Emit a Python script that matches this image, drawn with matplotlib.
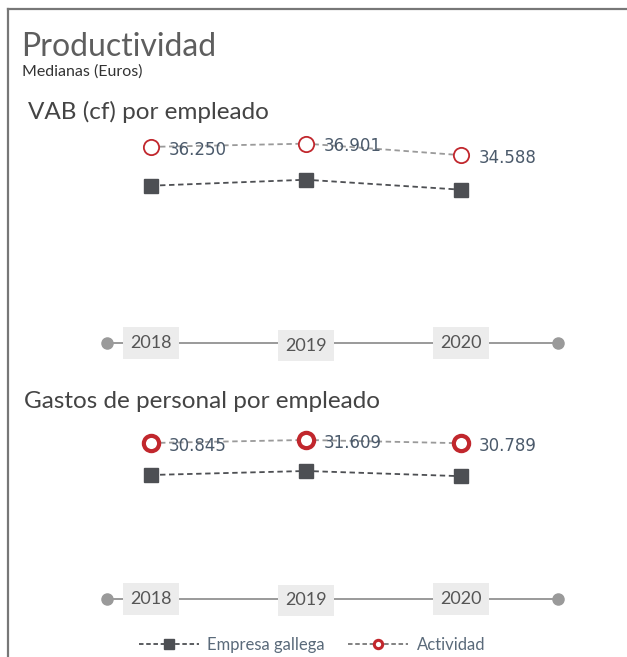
import matplotlib
matplotlib.use("Agg")
import matplotlib.pyplot as plt
from matplotlib.lines import Line2D

years = [2018, 2019, 2020]
year_labels = ["2018", "2019", "2020"]
vab_actividad = [36250, 36901, 34588]
vab_empresa = [28450, 29650, 27650]
gp_actividad = [30845, 31609, 30789]
gp_empresa = [22850, 23850, 22550]

W, H = 627, 657
RED = "#c1272d"
DARK = "#4d4f53"
NUM = "#4b5a6b"
TXT = "#555555"


def fx(px):
    return px / W


def fy(py):
    return 1 - py / H


def thousands(v):
    return f"{v:,}".replace(",", ".")


fig = plt.figure(figsize=(W / 100, H / 100), dpi=100)

# frame (top and left edges)
fig.add_artist(Line2D([fx(8), 1], [fy(9), fy(9)], color="#777777", lw=1.6))
fig.add_artist(Line2D([fx(8), fx(8)], [fy(9), 0], color="#777777", lw=1.6))

fig.text(fx(21), fy(56), "Productividad", fontsize=23, color="#5e5e5e",
         family="Lato", va="baseline")
fig.text(fx(22), fy(76), "Medianas (Euros)", fontsize=11.5, color="#333333",
         family="Lato", va="baseline")


def panel(top, bottom, ylim, title, title_x, title_y, actividad, empresa, edge_w, mid_off):
    ax = fig.add_axes([fx(107), fy(bottom), fx(558) - fx(107), fy(top) - fy(bottom)])
    ax.set_xlim(2018 - 44 / 155, 2020 + 97 / 155)
    ax.set_ylim(*ylim)
    ax.axis("off")

    ax.plot(years, empresa, ls=(0, (3, 2)), color=DARK, lw=1.3,
            marker="s", ms=9.5, mfc=DARK, mec=DARK, zorder=3)
    ax.plot(years, actividad, ls=(0, (3, 2)), color="#9a9a9a", lw=1.3,
            marker="o", ms=11, mfc="white", mec=RED, mew=edge_w, zorder=3)
    for x, v in zip(years, actividad):
        ax.annotate(thousands(v), (x, v), xytext=(12.5, -2), textcoords="offset points",
                    ha="left", va="center", fontsize=12, color=NUM, zorder=4)

    # time axis with end dots
    ax.plot([0, 1], [0, 0], transform=ax.transAxes, color="#9a9a9a", lw=1.4,
            clip_on=False, zorder=1)
    ax.plot([0, 1], [0, 0], transform=ax.transAxes, ls="none", marker="o", ms=8,
            color="#9a9a9a", clip_on=False, zorder=2)
    for i, (x, lab) in enumerate(zip(years, year_labels)):
        off = -mid_off if i == 1 else 0
        ax.annotate(lab, (x, 0), xycoords=("data", "axes fraction"),
                    xytext=(0, off), textcoords="offset points",
                    ha="center", va="center", fontsize=13, color=TXT, family="Lato",
                    bbox=dict(boxstyle="square,pad=0.42", fc="#ececec", ec="none"),
                    zorder=5)

    fig.text(fx(title_x), fy(title_y), title, fontsize=17.5, color="#444444",
             family="Lato", va="center")


panel(120, 343, (-3150, 41650), "VAB (cf) por empleado", 28, 112,
      vab_actividad, vab_empresa, 1.3, 2)
panel(415, 599, (-8155, 37845), "Gastos de personal por empleado", 24, 402,
      gp_actividad, gp_empresa, 3.0, 1)

handles = [
    Line2D([], [], ls=(0, (2.5, 1.5)), color=DARK, lw=1.3, marker="s", ms=7,
           mfc=DARK, mec=DARK),
    Line2D([], [], ls=(0, (2.5, 1.5)), color="#777777", lw=1.3, marker="o", ms=6,
           mfc="white", mec=RED, mew=2.2),
]
fig.legend(handles, ["Empresa gallega", "Actividad"], loc="center",
           bbox_to_anchor=(fx(312), fy(645)), ncol=2, frameon=False,
           handlelength=3.6, columnspacing=1.4, handletextpad=0.5,
           prop=dict(family="Lato", size=12), labelcolor="#5a6a7a")

fig.savefig("out.png", dpi=100)
